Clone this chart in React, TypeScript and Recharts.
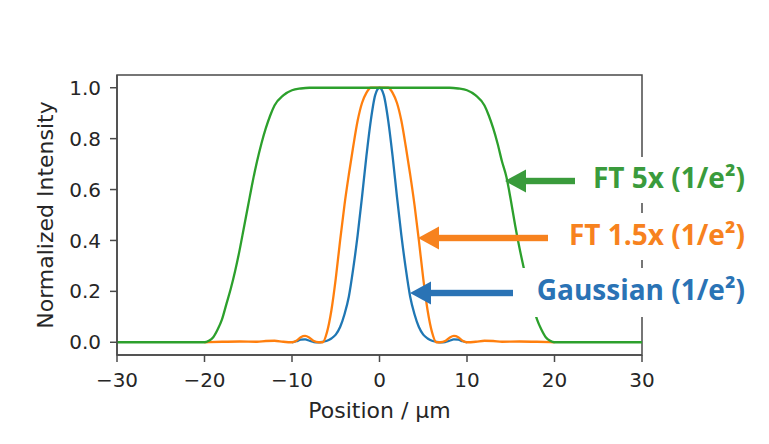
import { LineChart, Line, XAxis, YAxis, ReferenceArea } from "recharts";

// positions in µm, intensities
const gaussianPos = [-10, -9.5, -9, -8.5, -8, -7.5, -7, -6.5, -6, -5.5, -5, -4.5, -4, -3.5, -3, -2.5, -2, -1.5, -1, -0.5, 0, 0.5, 1, 1.5, 2, 2.5, 3, 3.5, 4, 4.5, 5, 5.5, 6, 6.5, 7, 7.5, 8, 8.5, 9, 9.5, 10];
const gaussianVal = [0, 0.004, 0.01, 0.011, 0.006, 0.001, 0, 0.002, 0.006, 0.015, 0.03, 0.06, 0.11, 0.18, 0.29, 0.42, 0.57, 0.73, 0.87, 0.97, 1, 0.97, 0.87, 0.73, 0.57, 0.42, 0.29, 0.18, 0.11, 0.06, 0.03, 0.015, 0.006, 0.002, 0, 0.001, 0.006, 0.011, 0.01, 0.004, 0];

const ft15Pos = [-20, -18, -16, -14, -13, -12, -11, -10, -9.5, -9, -8.5, -8, -7.5, -7, -6.5, -6, -5.5, -5, -4.5, -4, -3.5, -3, -2.5, -2, -1.5, -1, -0.5, 0, 0.5, 1, 1.5, 2, 2.5, 3, 3.5, 4, 4.5, 5, 5.5, 6, 6.5, 7, 7.5, 8, 8.5, 9, 9.5, 10, 11, 12, 13, 14, 16, 18, 20];
const ft15Val = [0, 0.002, 0.003, 0.002, 0.005, 0.006, 0.002, 0, 0.006, 0.02, 0.025, 0.018, 0.005, 0, 0, 0.04, 0.125, 0.25, 0.4, 0.54, 0.66, 0.77, 0.87, 0.94, 0.98, 1, 1, 1, 1, 1, 0.98, 0.94, 0.87, 0.77, 0.66, 0.54, 0.4, 0.25, 0.125, 0.04, 0, 0, 0.005, 0.018, 0.025, 0.02, 0.006, 0, 0.002, 0.006, 0.005, 0.002, 0.003, 0.002, 0];

const ft5Pos = [-30, -25, -20, -19.5, -19, -18.5, -18, -17.5, -17, -16.5, -16, -15.5, -15, -14.5, -14, -13.5, -13, -12.5, -12, -11, -10, -9, -8, 0, 8, 9, 10, 11, 12, 12.5, 13, 13.5, 14, 14.5, 15, 15.5, 16, 16.5, 17, 17.5, 18, 18.5, 19, 19.5, 20, 25, 30];
const ft5Val = [0, 0, 0, 0.006, 0.02, 0.05, 0.09, 0.15, 0.21, 0.28, 0.36, 0.45, 0.54, 0.63, 0.71, 0.78, 0.84, 0.89, 0.93, 0.97, 0.99, 0.997, 1, 1, 1, 0.997, 0.99, 0.97, 0.93, 0.89, 0.84, 0.78, 0.71, 0.65, 0.56, 0.46, 0.37, 0.29, 0.21, 0.15, 0.09, 0.05, 0.02, 0.006, 0, 0, 0];

const xTicks = [-30, -20, -10, 0, 10, 20, 30];
const yTicks = [0, 0.2, 0.4, 0.6, 0.8, 1.0];

const toPoints = (xs: number[], ys: number[]) => xs.map((x, i) => ({ x, y: ys[i] }));

const tickStyle = { fontSize: 20, fill: "#262626", fontFamily: "DejaVu Sans" };
const labelStyle = { fontSize: 22, fill: "#262626", fontFamily: "DejaVu Sans" };
const frame = "#4a4a4a";

const Arrow = ({ tip, end, y, color }: { tip: number; end: number; y: number; color: string }) => (
  <g fill={color}>
    <rect x={tip + 16} y={y - 3.2} width={end - tip - 16} height={6.4} />
    <polygon points={`${tip},${y} ${tip + 21},${y - 11.5} ${tip + 21},${y + 11.5}`} />
  </g>
);

export default function App() {
  return (
    <div style={{ position: "absolute", left: 0, top: 0, width: 769, height: 444, background: "#fff" }}>
      <LineChart width={769} height={444} margin={{ top: 75, right: 127, bottom: 59, left: 37 }}>
        <XAxis
          type="number"
          dataKey="x"
          domain={[-30, 30]}
          ticks={xTicks}
          height={30}
          tickSize={7}
          tickMargin={11}
          stroke={frame}
          strokeWidth={1.5}
          tick={tickStyle}
          tickFormatter={(v: number) => String(v).replace("-", "\u2212")}
          label={{ value: "Position / µm", position: "bottom", offset: 17, style: labelStyle }}
        />
        <YAxis
          type="number"
          domain={[-0.05, 1.05]}
          ticks={yTicks}
          width={80}
          tickSize={7}
          tickMargin={9}
          stroke={frame}
          strokeWidth={1.5}
          tick={tickStyle}
          tickFormatter={(v: number) => v.toFixed(1)}
          label={{ value: "Normalized Intensity", angle: -90, position: "insideLeft", offset: 8, style: { ...labelStyle, textAnchor: "middle" } }}
        />
        <ReferenceArea x1={-30} x2={30} y1={-0.05} y2={1.05} fill="none" stroke={frame} strokeWidth={1.5} />
        <Line data={toPoints(gaussianPos, gaussianVal)} dataKey="y" type="monotone" stroke="#1f77b4" strokeWidth={2.3} dot={false} isAnimationActive={false} />
        <Line data={toPoints(ft15Pos, ft15Val)} dataKey="y" type="monotone" stroke="#ff7f0e" strokeWidth={2.3} dot={false} isAnimationActive={false} />
        <Line data={toPoints(ft5Pos, ft5Val)} dataKey="y" type="monotone" stroke="#2ca02c" strokeWidth={2.3} dot={false} isAnimationActive={false} />
      </LineChart>
      <svg width={769} height={444} style={{ position: "absolute", left: 0, top: 0, pointerEvents: "none" }}>
        <rect x={577} y={157} width={190} height={46} fill="#fff" />
        <rect x={558} y={213} width={209} height={47} fill="#fff" />
        <rect x={520} y={268} width={247} height={49} fill="#fff" />
        <Arrow tip={505} end={575} y={181} color="#3a9b3c" />
        <Arrow tip={418} end={548} y={238} color="#f7821e" />
        <Arrow tip={410} end={513} y={293} color="#2a73b5" />
        <g fontFamily="Open Sans" fontWeight={700} fontSize={28} textAnchor="end">
          <text x={745} y={188} fill="#3a9b3c">FT 5x (1/e²)</text>
          <text x={745} y={245} fill="#f7821e">FT 1.5x (1/e²)</text>
          <text x={745} y={300} fill="#2a73b5">Gaussian (1/e²)</text>
        </g>
      </svg>
    </div>
  );
}
